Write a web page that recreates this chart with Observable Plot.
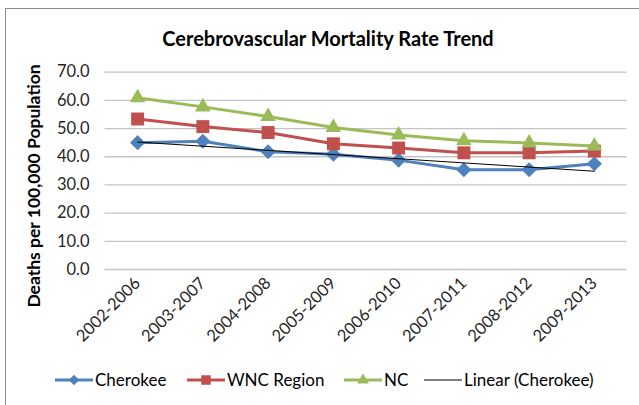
<!DOCTYPE html>
<html><head><meta charset="utf-8">
<script src="https://cdn.jsdelivr.net/npm/d3@7"></script>
<script src="https://cdn.jsdelivr.net/npm/@observablehq/plot@0.6"></script>
<style>
body{margin:0;background:#fff;}
#wrap{position:relative;width:639px;height:405px;overflow:hidden;font-family:Lato,"Noto Sans",sans-serif;color:#000;}
#frame{position:absolute;left:5px;top:8px;width:660px;height:420px;border:1.5px solid #8c8c8c;box-sizing:border-box;}
#title{position:absolute;left:0;width:656px;top:25.5px;text-align:center;font-weight:bold;font-size:20px;line-height:24px;}
#ylab{position:absolute;left:33px;top:186px;transform:translate(-50%,-50%) rotate(-90deg);white-space:nowrap;font-weight:bold;font-size:17.5px;}
#plot{position:absolute;left:0;top:0;}
.leg{position:absolute;top:369px;display:flex;align-items:center;font-size:17px;white-space:nowrap;}
.leg svg{margin-right:2px;}
</style></head>
<body>
<div id="wrap">
  <div id="frame"></div>
  <div id="plot"></div>
  <div id="title">Cerebrovascular Mortality Rate Trend</div>
  <div id="ylab">Deaths per 100,000 Population</div>
  <div id="legend"></div>
</div>
<script>
const periods = ["2002-2006","2003-2007","2004-2008","2005-2009","2006-2010","2007-2011","2008-2012","2009-2013"];
const cherokee = [45.0, 45.5, 41.8, 40.9, 38.8, 35.4, 35.4, 37.5];
const wnc = [53.4, 50.7, 48.6, 44.6, 43.1, 41.4, 41.4, 42.0];
const nc = [60.9, 57.7, 54.3, 50.4, 47.7, 45.7, 44.9, 43.8];
const yTicks = [0,10,20,30,40,50,60,70];
const seriesNames = ["Cherokee","WNC Region","NC"];
const colors = ["#4F81BD","#C0504D","#9BBB59"];

const series = [
  {name:seriesNames[0], values:cherokee, color:colors[0], symbol:"diamond2", r:6.8},
  {name:seriesNames[1], values:wnc, color:colors[1], symbol:"square", r:7.3},
  {name:seriesNames[2], values:nc, color:colors[2], symbol:"triangle", r:5.8}
];
const rowsOf = s => s.values.map((v,i)=>({i, v, name:s.name}));

const marks = [Plot.ruleY(yTicks,{stroke:"#c4c4c4", strokeWidth:1.3})];
for (const s of series) {
  const rows = rowsOf(s);
  marks.push(Plot.line(rows,{x:"i", y:"v", stroke:s.color, strokeWidth:3}));
  marks.push(Plot.dot(rows,{x:"i", y:"v", fill:s.color, stroke:"none", symbol:s.symbol, r:s.r}));
}
marks.push(Plot.linearRegressionY(rowsOf(series[0]),{x:"i", y:"v", stroke:"#000", strokeWidth:1, ci:0}));

const chart = Plot.plot({
  width:639, height:405,
  marginLeft:104.5, marginRight:12.5, marginTop:71.7, marginBottom:136,
  style:{fontFamily:'Lato,"Noto Sans",sans-serif', fontSize:"16.5px", color:"#262626", background:"transparent", overflow:"visible"},
  x:{type:"linear", domain:[-0.5,7.5], ticks:d3.range(periods.length), tickFormat:i=>periods[i], tickRotate:-45, tickSize:0, tickPadding:11, label:null},
  y:{domain:[0,70], ticks:yTicks, tickFormat:d=>d.toFixed(1), tickSize:0, tickPadding:15.5, label:null},
  marks
});
document.getElementById("plot").appendChild(chart);

// legend
const legendItems = [
  {label:"Cherokee", color:colors[0], sym:d3.symbolDiamond2, size:70, left:55, lw:3},
  {label:"WNC Region", color:colors[1], sym:d3.symbolSquare, size:90, left:187, lw:3},
  {label:"NC", color:colors[2], sym:d3.symbolTriangle, size:60, left:344, lw:3},
  {label:"Linear (Cherokee)", color:"#000", sym:null, size:0, left:424, lw:1}
];
const legend = document.getElementById("legend");
for (const it of legendItems) {
  const div = document.createElement("div");
  div.className = "leg";
  div.style.left = it.left + "px";
  const W = 38, H = 16;
  let svg = `<svg width="${W}" height="${H}"><line x1="0" x2="${W}" y1="${H/2}" y2="${H/2}" stroke="${it.color}" stroke-width="${it.lw}"/>`;
  if (it.sym) svg += `<path transform="translate(${W/2},${H/2})" d="${d3.symbol(it.sym, it.size)()}" fill="${it.color}"/>`;
  svg += `</svg>`;
  div.innerHTML = svg + `<span>${it.label}</span>`;
  legend.appendChild(div);
}
</script>
</body></html>
